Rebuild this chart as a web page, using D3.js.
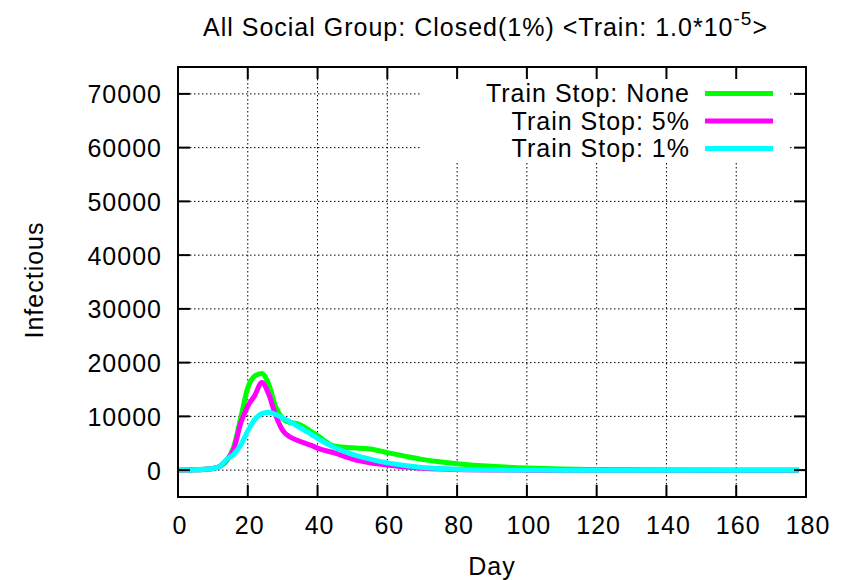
<!DOCTYPE html>
<html>
<head>
<meta charset="utf-8">
<script src="https://cdn.jsdelivr.net/npm/d3@7"></script>
<style>
  body { margin: 0; background: #fff; }
  svg { display: block; }
  text { font-family: "Liberation Sans", Arial, Helvetica, sans-serif; fill: #000; letter-spacing: 1px; }
</style>
</head>
<body>
<div id="vis"></div>
<script>
// chart values
var days = [0, 5, 10, 12, 14, 16, 18, 20, 22, 24, 26, 28, 30, 32, 34, 36, 38, 40,
            45, 50, 55, 60, 65, 70, 75, 80, 90, 100, 110, 120, 140, 160, 178];
var stopNone = [0, 50, 300, 700, 1800, 4400, 9800, 15300, 17500, 18000, 16000, 11800, 9600, 8850, 8700, 8100, 7250, 6400,
                4450, 4150, 3950, 3250, 2600, 2000, 1550, 1200, 700, 400, 200, 100, 20, 0, 0];
var stop5 = [0, 50, 300, 700, 1900, 3900, 8800, 11900, 13900, 16300, 14100, 10200, 7400, 6200, 5600, 5100, 4650, 4100,
             3150, 2050, 1380, 950, 580, 350, 200, 100, 20, 0, 0, 0, 0, 0, 0];
var stop1 = [0, 50, 300, 700, 2000, 2950, 4700, 7300, 9400, 10500, 10750, 10350, 9700, 9050, 8300, 7500, 6750, 5900,
             4150, 2950, 2050, 1350, 850, 500, 300, 180, 60, 10, 0, 0, 0, 0, 0];
var seriesNames = ["Train Stop: None", "Train Stop: 5%", "Train Stop: 1%"];
var seriesColors = ["#00ff00", "#ff00ff", "#00ffff"];
var xTicks = [0, 20, 40, 60, 80, 100, 120, 140, 160, 180];
var yTicks = [0, 10000, 20000, 30000, 40000, 50000, 60000, 70000];

(function () {
    var W = 845, H = 580;
    var pl = 178, pr = 806, pt = 67, pb = 497;
    var fs = 25;

    var svg = d3.select("#vis").append("svg")
        .attr("width", W).attr("height", H);

    var x = d3.scaleLinear().domain([0, 180]).range([pl, pr]);
    var y = d3.scaleLinear().domain([-5000, 75000]).range([pb, pt]);

    // grid
    var grid = svg.append("g")
        .attr("stroke", "#000").attr("stroke-width", 1)
        .attr("stroke-dasharray", "1.5,2.5");
    grid.selectAll(".gx").data(xTicks.slice(1, -1)).enter().append("line")
        .attr("x1", d => x(d)).attr("x2", d => x(d))
        .attr("y1", pt).attr("y2", pb);
    grid.selectAll(".gy").data(yTicks).enter().append("line")
        .attr("x1", pl).attr("x2", pr)
        .attr("y1", d => y(d)).attr("y2", d => y(d));

    // curves
    var allSeries = [stopNone, stop5, stop1];
    var line = d3.line()
        .x((d, i) => x(days[i]))
        .y(d => y(d))
        .curve(d3.curveMonotoneX);

    allSeries.forEach(function (s, k) {
        svg.append("path")
            .attr("d", line(s))
            .attr("fill", "none")
            .attr("stroke", seriesColors[k])
            .attr("stroke-width", 5)
            .attr("stroke-linejoin", "round");
    });

    // key (opaque)
    svg.append("rect")
        .attr("x", 422).attr("y", pt)
        .attr("width", 368).attr("height", 95)
        .attr("fill", "#fff");

    var keyY = [93.5, 121, 148.5];
    seriesNames.forEach(function (name, k) {
        svg.append("text")
            .attr("x", 690).attr("y", keyY[k] + 8.5)
            .attr("text-anchor", "end")
            .style("font-size", fs + "px")
            .text(name);
        svg.append("line")
            .attr("x1", 705).attr("x2", 773)
            .attr("y1", keyY[k]).attr("y2", keyY[k])
            .attr("stroke", seriesColors[k])
            .attr("stroke-width", 5);
    });

    // frame and ticks
    var tl = 12;
    var ticks = svg.append("g").attr("stroke", "#000").attr("stroke-width", 2);
    xTicks.forEach(function (d) {
        ticks.append("line").attr("x1", x(d)).attr("x2", x(d)).attr("y1", pb).attr("y2", pb - tl);
        ticks.append("line").attr("x1", x(d)).attr("x2", x(d)).attr("y1", pt).attr("y2", pt + tl);
    });
    yTicks.forEach(function (d) {
        ticks.append("line").attr("x1", pl).attr("x2", pl + tl).attr("y1", y(d)).attr("y2", y(d));
        ticks.append("line").attr("x1", pr).attr("x2", pr - tl).attr("y1", y(d)).attr("y2", y(d));
    });
    svg.append("rect")
        .attr("x", pl).attr("y", pt)
        .attr("width", pr - pl).attr("height", pb - pt)
        .attr("fill", "none").attr("stroke", "#000").attr("stroke-width", 2);

    // tick labels
    svg.selectAll(".xl").data(xTicks).enter().append("text")
        .attr("x", d => x(d) + 2).attr("y", 534)
        .attr("text-anchor", "middle")
        .style("font-size", fs + "px")
        .text(d => d);
    svg.selectAll(".yl").data(yTicks).enter().append("text")
        .attr("x", 162).attr("y", d => y(d) + 9.5)
        .attr("text-anchor", "end")
        .style("font-size", fs + "px")
        .text(d => d);

    // axis titles
    svg.append("text")
        .attr("x", 492).attr("y", 575)
        .attr("text-anchor", "middle")
        .style("font-size", fs + "px")
        .text("Day");
    svg.append("text")
        .attr("transform", "translate(43,280) rotate(-90)")
        .attr("text-anchor", "middle")
        .style("font-size", fs + "px")
        .text("Infectious");

    // title
    var title = svg.append("text")
        .attr("x", 203).attr("y", 36)
        .style("font-size", fs + "px");
    title.append("tspan").text("All Social Group: Closed(1%) <Train: 1.0*10");
    title.append("tspan").attr("dy", -11).style("font-size", "19px").text("-5");
    title.append("tspan").attr("dy", 11).text(">");
})();
</script>
</body>
</html>
